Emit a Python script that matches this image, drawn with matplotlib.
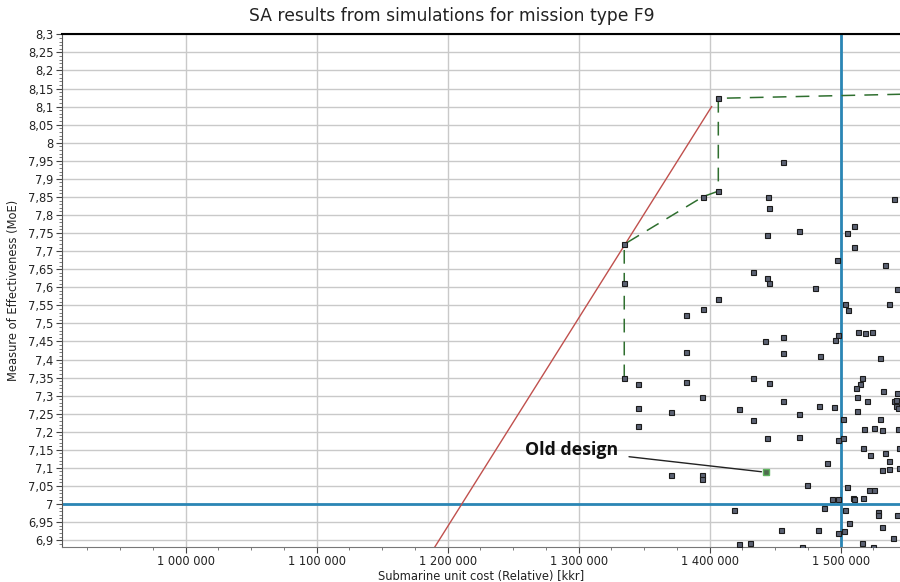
import matplotlib
matplotlib.use("Agg")
import matplotlib.pyplot as plt
from matplotlib.ticker import FixedLocator, MultipleLocator, FuncFormatter

# ---- data (cost in kkr, MoE) ----
sim_cost = [1456200, 1444700, 1445500, 1444000, 1468400, 1540700, 1509900, 1505000, 1509900, 1497400,
            1534100, 1433300, 1444000, 1445500, 1480600, 1543200, 1406600, 1395100, 1381900, 1503300,
            1505900, 1536600, 1513000, 1518900, 1523700, 1497900, 1496000, 1442200, 1456200, 1456200,
            1484600, 1530200, 1382100, 1345500, 1382100, 1433300, 1445500, 1394400, 1456200, 1516300,
            1514700, 1511500, 1532500, 1542700, 1512200, 1520300, 1540700, 1542600, 1542600, 1544000,
            1345500, 1370700, 1422100, 1483700, 1495100, 1468200, 1512200, 1433300, 1502000, 1530200,
            1345500, 1517800, 1525200, 1531500, 1543900, 1444000, 1468200, 1498200, 1502000, 1517000,
            1522600, 1534100, 1544800, 1536600, 1531500, 1536600, 1544500, 1489300, 1370700, 1394400,
            1394400, 1474000, 1504800, 1521800, 1525400, 1493400, 1497900, 1509600, 1510400, 1517000,
            1418600, 1487000, 1503300, 1528700, 1528700, 1542700, 1506100, 1531800, 1454400, 1482900,
            1498200, 1502500, 1539900, 1422100, 1431000, 1516300, 1470400, 1524400]
sim_moe = [7.946, 7.851, 7.818, 7.745, 7.756, 7.844, 7.769, 7.750, 7.711, 7.676,
           7.661, 7.641, 7.626, 7.612, 7.597, 7.594, 7.567, 7.541, 7.522, 7.553,
           7.537, 7.553, 7.477, 7.472, 7.475, 7.468, 7.454, 7.451, 7.461, 7.417,
           7.410, 7.403, 7.420, 7.331, 7.337, 7.348, 7.334, 7.295, 7.286, 7.348,
           7.331, 7.321, 7.313, 7.308, 7.295, 7.284, 7.285, 7.289, 7.271, 7.265,
           7.266, 7.255, 7.263, 7.271, 7.268, 7.248, 7.257, 7.233, 7.236, 7.236,
           7.216, 7.207, 7.210, 7.204, 7.207, 7.183, 7.185, 7.177, 7.183, 7.154,
           7.136, 7.142, 7.156, 7.118, 7.094, 7.097, 7.099, 7.113, 7.079, 7.079,
           7.069, 7.053, 7.048, 7.039, 7.039, 7.014, 7.014, 7.017, 7.013, 7.017,
           6.983, 6.988, 6.983, 6.979, 6.970, 6.970, 6.947, 6.937, 6.929, 6.929,
           6.921, 6.926, 6.905, 6.890, 6.893, 6.891, 6.881, 6.881]

pareto_cost = [1334800, 1334800, 1334800, 1395100, 1406600, 1406600, 1580000]
pareto_moe = [7.348, 7.612, 7.719, 7.851, 7.866, 8.123, 8.137]

red_cost = [1190000, 1401500]
red_moe = [6.88, 8.10]

old_cost = [1442700]
old_moe = [7.088]

ref_cost = 1500000
ref_moe = 7.0

x_ticks = [1000000, 1100000, 1200000, 1300000, 1400000, 1500000]
y_ticks = [round(6.9 + 0.05 * i, 2) for i in range(29)]

title = "SA results from simulations for mission type F9"
x_label = "Submarine unit cost (Relative) [kkr]"
y_label = "Measure of Effectiveness (MoE)"

# ---- figure ----
fig = plt.figure(figsize=(9, 5.82), dpi=100)
ax = fig.add_axes([62 / 900, 1 - 547 / 582, 1 - 62 / 900, (547 - 34) / 582])

ax.set_xlim(905600, 1545300)
ax.set_ylim(6.881, 8.301)

ax.yaxis.set_major_locator(FixedLocator(y_ticks))
ax.yaxis.set_minor_locator(MultipleLocator(0.01))
ax.xaxis.set_major_locator(FixedLocator(x_ticks))
ax.xaxis.set_minor_locator(MultipleLocator(25000))


def yfmt(v, pos):
    s = ("%.2f" % v).rstrip("0").rstrip(".")
    return s.replace(".", ",")


def xfmt(v, pos):
    return "{:,}".format(int(round(v))).replace(",", " ")


ax.yaxis.set_major_formatter(FuncFormatter(yfmt))
ax.xaxis.set_major_formatter(FuncFormatter(xfmt))

ax.grid(True, which="major", color="#c9c9c9", linewidth=1.0)
ax.set_axisbelow(True)

ax.tick_params(axis="both", which="major", labelsize=8.3, length=4, color="#444444",
               labelcolor="#222222", pad=2)
ax.tick_params(axis="both", which="minor", length=2, color="#666666")

ax.spines["right"].set_visible(False)
ax.spines["top"].set_color("black")
ax.spines["top"].set_linewidth(1.5)
ax.spines["left"].set_color("#555555")
ax.spines["bottom"].set_color("#777777")

# reference lines
ax.axhline(ref_moe, color="#2a86b5", linewidth=2, zorder=2)
ax.axvline(ref_cost, color="#2a86b5", linewidth=2, zorder=2)

# red line
ax.plot(red_cost, red_moe, color="#c0504d", linewidth=1.0, zorder=3)

# pareto dashed line
ax.plot(pareto_cost, pareto_moe, color="#2f6f2f", linewidth=1.1, linestyle=(0, (9, 6)), zorder=4)

# scatter
ax.plot(sim_cost, sim_moe, linestyle="none", marker="s", markersize=3.6,
        markerfacecolor="#5b6172", markeredgecolor="#1b1b1b", markeredgewidth=0.8, zorder=5)
ax.plot(pareto_cost[:-1], pareto_moe[:-1], linestyle="none", marker="s", markersize=3.6,
        markerfacecolor="#5b6172", markeredgecolor="#1b1b1b", markeredgewidth=0.8, zorder=5)
ax.plot(old_cost, old_moe, linestyle="none", marker="s", markersize=3.8,
        markerfacecolor="#4e6b4e", markeredgecolor="#5fb35f", markeredgewidth=1.0, zorder=6)

ax.annotate("Old design", xy=(old_cost[0], old_moe[0]), xytext=(1330000, 7.149),
            fontsize=12.8, fontweight="bold", family=["Open Sans", "DejaVu Sans"],
            ha="right", va="center", color="#111111",
            arrowprops=dict(arrowstyle="-", color="#222222", linewidth=1.0,
                            shrinkA=6, shrinkB=3), zorder=7)

fig.text(0.502, 0.973, title, ha="center", va="center", fontsize=12.3, color="#222222")
ax.set_xlabel(x_label, fontsize=8.3, labelpad=1, color="#222222")
ax.set_ylabel(y_label, fontsize=8.3, labelpad=6, color="#222222")

fig.savefig("out.png", dpi=100)
